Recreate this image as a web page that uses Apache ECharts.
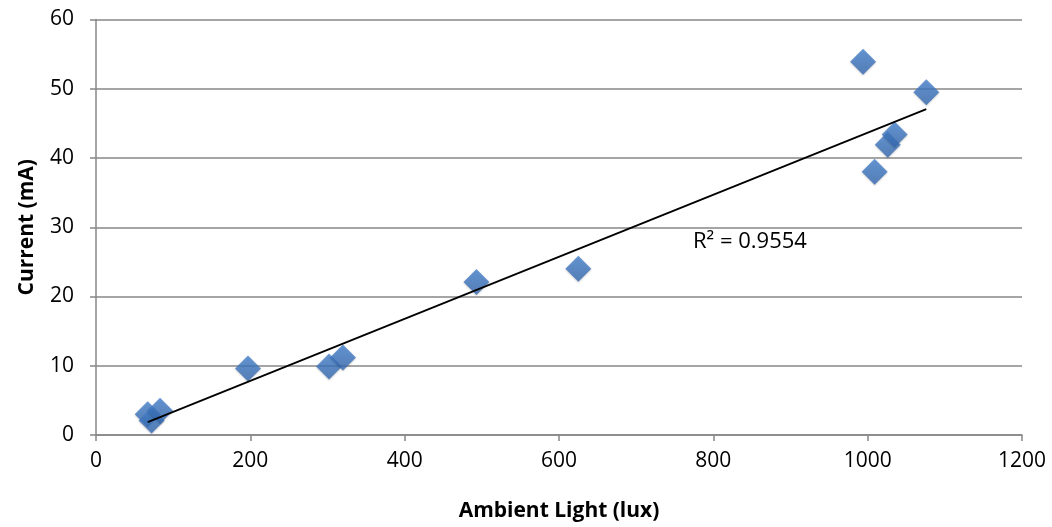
<!DOCTYPE html>
<html><head><meta charset="utf-8">
<script src="https://cdn.jsdelivr.net/npm/echarts@6/dist/echarts.min.js"></script>
<style>html,body{margin:0;padding:0;background:#fff}#c{width:1052px;height:527px}</style>
</head><body><div id="c"></div>
<script>
const lux = [67, 72, 83, 197, 302, 320, 493, 625, 994, 1009, 1026, 1035, 1076];
const current = [3.0, 2.1, 3.5, 9.6, 9.9, 11.2, 22.1, 24.0, 53.9, 38.0, 41.9, 43.4, 49.5];
const xTicks = [0, 200, 400, 600, 800, 1000, 1200];
const yTicks = [0, 10, 20, 30, 40, 50, 60];
const r2Label = 'R² = 0.9554';

const pts = lux.map((x, i) => [x, current[i]]);
const n = lux.length;
const mx = lux.reduce((a, b) => a + b, 0) / n;
const my = current.reduce((a, b) => a + b, 0) / n;
let sxy = 0, sxx = 0;
for (let i = 0; i < n; i++) { sxy += (lux[i] - mx) * (current[i] - my); sxx += (lux[i] - mx) ** 2; }
const slope = sxy / sxx, icpt = my - slope * mx;
const xmin = Math.min(...lux), xmax = Math.max(...lux);
const trend = [[xmin, icpt + slope * xmin], [xmax, icpt + slope * xmax]];

const font = '"Open Sans", "Liberation Sans", sans-serif';
const chart = echarts.init(document.getElementById('c'), null, {renderer: 'canvas'});
chart.setOption({
  animation: false,
  grid: {left: 96, right: 30, top: 19.5, bottom: 91},
  xAxis: {
    type: 'value', min: xTicks[0], max: xTicks[xTicks.length - 1], interval: 200,
    name: 'Ambient Light (lux)', nameLocation: 'middle', nameGap: 66,
    nameTextStyle: {fontFamily: font, fontWeight: 'bold', fontSize: 21, color: '#000'},
    axisLine: {lineStyle: {color: '#878787', width: 1.5}},
    axisTick: {show: true, length: 6, lineStyle: {color: '#878787', width: 1.5}},
    axisLabel: {fontFamily: font, fontSize: 21, color: '#000', margin: 16, formatter: v => String(v)},
    splitLine: {show: false}
  },
  yAxis: {
    type: 'value', min: yTicks[0], max: yTicks[yTicks.length - 1], interval: 10,
    name: 'Current (mA)', nameLocation: 'middle', nameGap: 58, nameRotate: 90,
    nameTextStyle: {fontFamily: font, fontWeight: 'bold', fontSize: 21, color: '#000'},
    axisLine: {show: true, lineStyle: {color: '#878787', width: 1.5}},
    axisTick: {show: true, length: 6, lineStyle: {color: '#878787', width: 1.5}},
    axisLabel: {fontFamily: font, fontSize: 21, color: '#000', margin: 22, formatter: v => String(v)},
    splitLine: {lineStyle: {color: '#878787', width: 1.5}}
  },
  graphic: [{
    type: 'text', left: 693, top: 231,
    style: {text: r2Label, font: '22px ' + font, fill: '#000'}
  }],
  series: [{
    type: 'scatter', data: pts, symbol: 'diamond', symbolSize: 26,
    itemStyle: {
      color: new echarts.graphic.LinearGradient(0, 0, 0, 1, [
        {offset: 0, color: '#4683cf'}, {offset: 1, color: '#3569b0'}
      ]),
      shadowColor: 'rgba(0,0,0,0.25)', shadowBlur: 2, shadowOffsetY: 1
    },
    z: 2
  }, {
    type: 'line', data: trend, symbol: 'none',
    lineStyle: {color: '#000', width: 1.8}, z: 3
  }]
});
</script></body></html>
